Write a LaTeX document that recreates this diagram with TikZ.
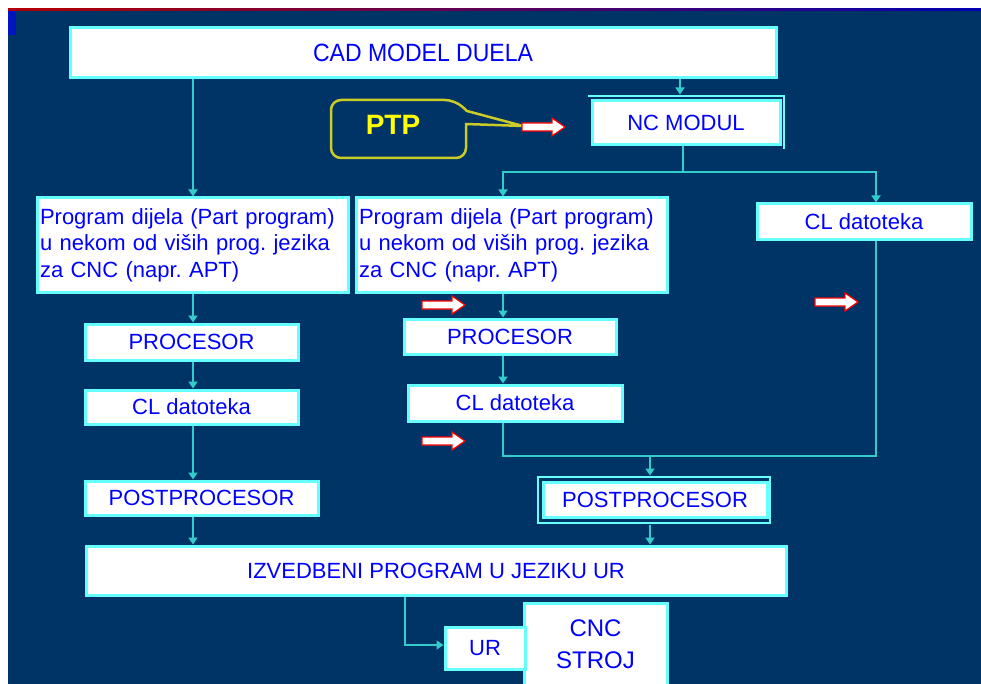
\documentclass[tikz,border=0pt]{standalone}
\usepackage{fontspec}
\setmainfont{Liberation Sans}
\usetikzlibrary{arrows.meta,calc}
\frenchspacing
\definecolor{bg}{RGB}{0,51,102}
\definecolor{boxc}{RGB}{102,255,255}
\definecolor{linec}{RGB}{51,204,204}
\definecolor{txtblue}{RGB}{0,0,255}
\definecolor{ptpc}{RGB}{204,204,40}
\definecolor{ptpt}{RGB}{255,255,0}
\tikzset{
  box/.style={draw=boxc, line width=3pt, fill=white, text=txtblue, inner sep=0pt,
    font=\fontsize{22}{26.5}\selectfont, align=center},
  line/.style={draw=linec, line width=2pt},
  conn/.style={line, -{Triangle[width=9pt,length=7pt]}},
  frameline/.style={draw=boxc, line width=2pt},
  rarrow/.pic={\draw[red, line width=1.2pt, fill=white, line join=miter]
     (0,-4) -- (30,-4) -- (30,-9) -- (43,0) -- (30,9) -- (30,4) -- (0,4) -- cycle;}
}
\begin{document}
\begin{tikzpicture}[x=1pt,y=-1pt]
\useasboundingbox (0,0) rectangle (981,684);
% background
\fill[white] (0,0) rectangle (981,684);
\fill[bg] (8,10) rectangle (981,684);
\shade[left color=red!70!black, right color=blue!70!black] (8,9) rectangle (981,11);
\fill[blue!60!bg] (8,11) rectangle (16,35);

% column coordinates
\coordinate (colA) at (193,0);
\coordinate (colB) at (503,0);
\coordinate (colM) at (650,0);
\coordinate (colR) at (876,0);
\coordinate (colN) at (680,0);
\coordinate (colU) at (405,0);

% nodes
\node[box, minimum width=706, minimum height=50] (cad) at (423,53)
  {\fontsize{25}{30}\selectfont\scalebox{0.92}[1]{CAD MODEL DUELA}};
\draw[frameline] (588,96) -- (784,96) -- (784,149);
\node[box, minimum width=188, minimum height=44] (nc) at (686,123) {NC MODUL};

\node[box, text width=305, align=left, minimum width=311, minimum height=94] (prog1) at (192.5,245)
  {Program dijela (Part program)\\u nekom od viših prog. jezika\\za CNC (napr. APT)};
\node[box, text width=305, align=left, minimum width=311, minimum height=94] (prog2) at (511.5,245)
  {Program dijela (Part program)\\u nekom od viših prog. jezika\\za CNC (napr. APT)};
\node[box, minimum width=214, minimum height=36] (cl3) at (864,222) {CL datoteka};

\node[box, minimum width=213, minimum height=36] (proc1) at (191.5,342) {PROCESOR};
\node[box, minimum width=213, minimum height=34] (cl1) at (191.5,407) {CL datoteka};
\node[box, minimum width=233, minimum height=34] (post1) at (201.5,498) {POSTPROCESOR};

\node[box, minimum width=212, minimum height=35] (proc2) at (510,336.5) {PROCESOR};
\node[box, minimum width=214, minimum height=36] (cl2) at (515,403) {CL datoteka};
\draw[frameline] (538,477) rectangle (770,523);
\node[box, minimum width=224, minimum height=35] (post2) at (655,499.5) {POSTPROCESOR};

\node[box, minimum width=700, minimum height=49] (izv) at (436,570.5) {IZVEDBENI PROGRAM U JEZIKU UR};
\node[box, minimum width=143, minimum height=82, font=\fontsize{24}{32}\selectfont] (cnc) at (595.5,644) {CNC\\STROJ};
\node[box, minimum width=80, minimum height=42] (ur) at (485,648) {UR};

% PTP callout
\draw[ptpc, line width=2.5pt, line join=round]
  (523,126) -- (466,124) [rounded corners=10pt] -- (466,158) -- (331,158) -- (331,100) -- (455,100)
  [sharp corners] -- (467,111) -- cycle;
\node[text=ptpt, font=\bfseries\fontsize{28}{30}\selectfont] (ptp) at (393,125) {PTP};

% red-white arrows
\pic at (522,127) {rarrow};
\pic at (422,305) {rarrow};
\pic at (815,302) {rarrow};
\pic at (422,441) {rarrow};

% connectors: left column
\draw[conn] (cad.south -| colA) -- (prog1.north -| colA);
\draw[conn] (prog1.south -| colA) -- (proc1.north -| colA);
\draw[conn] (proc1.south -| colA) -- (cl1.north -| colA);
\draw[conn] (cl1.south -| colA) -- (post1.north -| colA);
\draw[conn] (post1.south -| colA) -- (izv.north -| colA);

% CAD to NC
\draw[conn] (cad.south -| colN) -- ([yshift=5pt]nc.north -| colN);

% NC split
\coordinate (split) at (683,172);
\draw[line] (nc.south -| split) -- (split);
\draw[conn] (split) -| (prog2.north -| colB);
\draw[conn] (split) -| (cl3.north -| colR);

% middle column
\draw[conn] (prog2.south -| colB) -- (proc2.north -| colB);
\draw[conn] (proc2.south -| colB) -- (cl2.north -| colB);
\coordinate (join) at (650,456);
\draw[line] (cl2.south -| colB) |- (join) -| (cl3.south -| colR);
\draw[conn] (join) -- ([yshift=5pt]post2.north -| colM);
\draw[conn] ([yshift=-6pt]post2.south -| colM) -- (izv.north -| colM);

% to UR
\draw[conn] (izv.south -| colU) |- ([yshift=3pt]ur.west);
\end{tikzpicture}
\end{document}
